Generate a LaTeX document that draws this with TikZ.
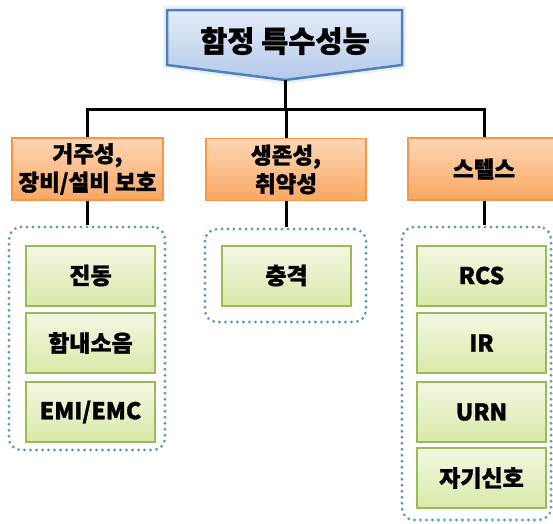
\documentclass[tikz,border=0pt]{standalone}
\usepackage{fontspec}
\setmainfont{Noto Sans CJK KR}[BoldFeatures={FakeBold=1.2}]
\usetikzlibrary{calc}
\definecolor{topborder}{HTML}{4F81BD}
\definecolor{toptop}{HTML}{E4ECF8}
\definecolor{topbot}{HTML}{B4C9EA}
\definecolor{orborder}{HTML}{F79646}
\definecolor{ortop}{HTML}{FDD6B6}
\definecolor{orbot}{HTML}{F9A862}
\definecolor{grborder}{HTML}{9BBB59}
\definecolor{grtop}{HTML}{F3F8E4}
\definecolor{grbot}{HTML}{D8E9A8}
\definecolor{dotcol}{HTML}{5E9CC0}
\tikzset{
  conn/.style={line width=3pt},
  catbox/.style={draw=orborder, line width=1.5pt, top color=ortop, bottom color=orbot,
    minimum height=62pt, align=center, font=\fontsize{22.5}{28.5}\selectfont\bfseries, inner sep=0pt},
  leafbox/.style={draw=grborder, line width=2pt, top color=grtop, bottom color=grbot,
    minimum width=129pt, minimum height=60pt, align=center, font=\fontsize{23}{26}\selectfont\bfseries, inner sep=0pt},
  groupbox/.style={draw=dotcol, line width=3.2pt, dash pattern=on 0pt off 6pt, line cap=round,
    rounded corners=12pt, inner sep=0pt}
}
\begin{document}
\begin{tikzpicture}[x=1pt,y=1pt]
\useasboundingbox (0,0) rectangle (553,-523);
\clip (0,0) rectangle (553,-523);
% top node
\fill[topborder!12] (163,-6) -- (406,-6) -- (406,-68) -- (285,-84) -- (163,-68) -- cycle;
\path[draw=topborder, line width=2.5pt, top color=toptop, bottom color=topbot]
  (167,-10) -- (402,-10) -- (402,-65) -- (285,-80) -- (167,-65) -- cycle;
\node[font=\fontsize{29.5}{32}\selectfont\bfseries] (top) at (285,-41) {함정 특수성능};
\coordinate (tip) at (285,-80);
\coordinate (j) at (285,-109);

% category boxes
\node[catbox, minimum width=151pt] (o1) at (87.5,-169) {거주성,\\장비/설비 보호};
\node[catbox, minimum width=160pt] (o2) at (286,-169.5) {생존성,\\취약성};
\node[catbox, minimum width=152pt] (o3) at (484,-169) {스텔스};

% groups
\node[groupbox, minimum width=156pt, minimum height=223pt] (g1) at (87,-338.5) {};
\node[groupbox, minimum width=161pt, minimum height=93pt] (g2) at (285.5,-275.5) {};
\node[groupbox, minimum width=149pt, minimum height=293pt] (g3) at (476.5,-373.5) {};

% leaves
\node[leafbox] (a1) at (90.5,-275.5) {진동};
\node[leafbox] (a2) at (90.5,-343) {함내소음};
\node[leafbox] (a3) at (90.5,-412) {EMI/EMC};
\node[leafbox] (b1) at (286.5,-275.5) {충격};
\node[leafbox] (c1) at (481.5,-275.5) {RCS};
\node[leafbox] (c2) at (481.5,-343) {IR};
\node[leafbox] (c3) at (481.5,-412) {URN};
\node[leafbox] (c4) at (481.5,-478) {자기신호};

% connectors
\draw[conn] (tip) -- (j);
\draw[conn] (o1.north) |- (j) -| (o3.north);
\draw[conn] (o2.north) -- (o2.north |- j);
\draw[conn] (o1.south) -- (o1.south |- g1.north);
\draw[conn] (o2.south) -- (o2.south |- g2.north);
\draw[conn] (o3.south) -- (o3.south |- g3.north);
\end{tikzpicture}
\end{document}
